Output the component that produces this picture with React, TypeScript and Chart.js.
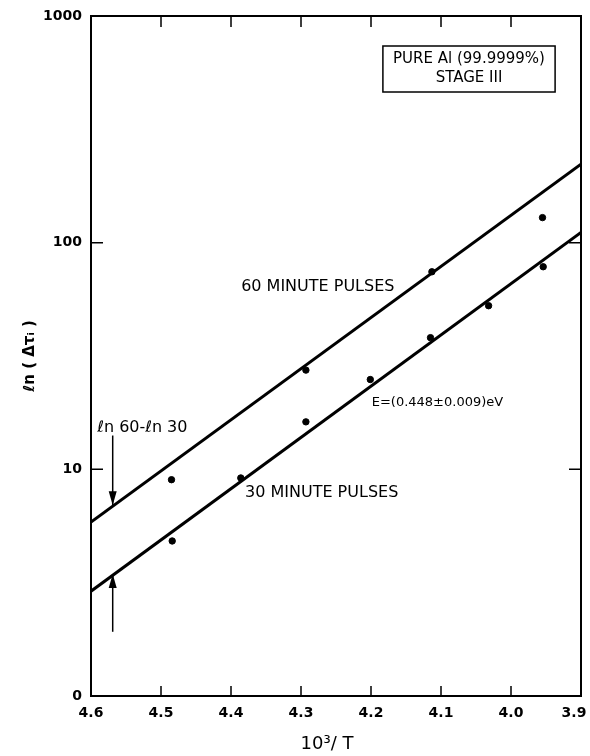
import { useEffect, useRef } from 'react';
import { Chart, registerables } from 'chart.js';
Chart.register(...registerables);

const xTicks = [4.6, 4.5, 4.4, 4.3, 4.2, 4.1, 4.0, 3.9];
const xTickLabels = ['4.6', '4.5', '4.4', '4.3', '4.2', '4.1', '4.0', '3.9\u2002\u2002'];
const yTicks = [1, 10, 100, 1000];
const yTickLabels = ['0', '10', '100', '1000'];

const x60 = [4.485, 4.293, 4.113, 3.955];
const y60 = [9.0, 27.4, 74.4, 129];
const x30 = [4.484, 4.386, 4.293, 4.201, 4.115, 4.032, 3.954];
const y30 = [4.83, 9.16, 16.2, 24.9, 38.1, 52.7, 78.3];

const fit60X = [4.6, 3.9];
const fit60Y = [5.85, 222];
const fit30X = [4.6, 3.9];
const fit30Y = [2.9, 111];

const xTitle = '10³/ T\u2002\u2002';
const yTitle = 'ℓn ( Δτᵢ )';
const boxLines = ['PURE Al (99.9999%)', 'STAGE III'];
const label60 = '60 MINUTE PULSES';
const label30 = '30 MINUTE PULSES';
const labelE = 'E=(0.448±0.009)eV';
const labelLn = 'ℓn 60-ℓn 30';

const pts = (xs: number[], ys: number[]) => xs.map((x, i) => ({ x, y: ys[i] }));

const FONT = '"DejaVu Sans", sans-serif';

const decorPlugin = {
  id: 'decor',
  afterDraw(chart: any) {
    const { ctx, chartArea: a, scales } = chart;
    const xs = scales.x;
    const ys = scales.y;
    const px = (v: number) => xs.getPixelForValue(v);
    const py = (v: number) => ys.getPixelForValue(v);
    ctx.save();
    ctx.strokeStyle = '#000';
    ctx.fillStyle = '#000';
    // frame
    ctx.lineWidth = 2;
    ctx.strokeRect(a.left, a.top, a.right - a.left, a.bottom - a.top);
    // inward ticks
    ctx.lineWidth = 1.5;
    xTicks.slice(1, -1).forEach((v) => {
      const x = px(v);
      ctx.beginPath();
      ctx.moveTo(x, a.bottom);
      ctx.lineTo(x, a.bottom - 10);
      ctx.moveTo(x, a.top);
      ctx.lineTo(x, a.top + 11);
      ctx.stroke();
    });
    yTicks.slice(1, -1).forEach((v) => {
      const y = py(v);
      ctx.beginPath();
      ctx.moveTo(a.left, y);
      ctx.lineTo(a.left + 12, y);
      ctx.moveTo(a.right, y);
      ctx.lineTo(a.right - 12, y);
      ctx.stroke();
    });
    // info box
    const bx1 = px(4.183), bx2 = px(3.937);
    const by1 = a.top + 30, by2 = a.top + 76;
    ctx.lineWidth = 1.5;
    ctx.strokeRect(bx1, by1, bx2 - bx1, by2 - by1);
    ctx.font = `15px ${FONT}`;
    ctx.textAlign = 'center';
    ctx.textBaseline = 'middle';
    ctx.fillText(boxLines[0], (bx1 + bx2) / 2, by1 + 13);
    ctx.fillText(boxLines[1], (bx1 + bx2) / 2, by1 + 32);
    // labels
    ctx.font = `16px ${FONT}`;
    ctx.textAlign = 'center';
    ctx.fillText(label60, px(4.276), py(63.7));
    ctx.textAlign = 'left';
    ctx.fillText(label30, px(4.38), py(7.86));
    ctx.fillText(labelLn, px(4.591), py(15.2));
    ctx.font = `13px ${FONT}`;
    ctx.fillText(labelE, px(4.199), py(19.6));
    // arrows
    const ax = px(4.569);
    const drawArrow = (y0: number, y1: number) => {
      ctx.lineWidth = 1.5;
      ctx.beginPath();
      ctx.moveTo(ax, y0);
      ctx.lineTo(ax, y1);
      ctx.stroke();
      const dir = y1 > y0 ? 1 : -1;
      ctx.beginPath();
      ctx.moveTo(ax, y1);
      ctx.lineTo(ax - 4, y1 - dir * 14);
      ctx.lineTo(ax + 4, y1 - dir * 14);
      ctx.closePath();
      ctx.fill();
    };
    drawArrow(py(14.1), py(6.95));
    drawArrow(py(1.92), py(3.45));
    ctx.restore();
  },
};

export default function App() {
  const ref = useRef<HTMLCanvasElement>(null);
  useEffect(() => {
    if (!ref.current) return;
    const chart = new Chart(ref.current, {
      type: 'scatter',
      data: {
        datasets: [
          { data: pts(fit60X, fit60Y), showLine: true, borderColor: '#000', borderWidth: 3, pointRadius: 0 },
          { data: pts(fit30X, fit30Y), showLine: true, borderColor: '#000', borderWidth: 3, pointRadius: 0 },
          { data: pts(x60, y60), backgroundColor: '#000', borderColor: '#000', pointRadius: 3.2 },
          { data: pts(x30, y30), backgroundColor: '#000', borderColor: '#000', pointRadius: 3.2 },
        ],
      },
      options: {
        responsive: false,
        animation: false,
        layout: { padding: { top: 16, right: 9, left: 0, bottom: 0 } },
        plugins: { legend: { display: false }, tooltip: { enabled: false } },
        scales: {
          x: {
            type: 'linear',
            reverse: true,
            min: 3.9,
            max: 4.6,
            afterBuildTicks: (s: any) => { s.ticks = xTicks.map((v) => ({ value: v })); },
            afterFit: (s: any) => { s.height = 60; s.paddingLeft = 0; s.paddingRight = 0; },
            grid: { display: false, drawTicks: false },
            border: { display: false },
            ticks: {
              padding: 9,
              color: '#000',
              font: { family: FONT, size: 14, weight: 'bold' },
              callback: (v: any) => xTickLabels[xTicks.findIndex((t) => Math.abs(t - Number(v)) < 1e-6)] ?? '',
            },
            title: { display: true, text: xTitle, color: '#000', font: { family: FONT, size: 18 }, padding: { top: 0, bottom: 1 } },
          },
          y: {
            type: 'logarithmic',
            min: 1,
            max: 1000,
            afterBuildTicks: (s: any) => { s.ticks = yTicks.map((v) => ({ value: v })); },
            afterFit: (s: any) => { s.width = 91; s.paddingTop = 0; s.paddingBottom = 0; },
            grid: { display: false, drawTicks: false },
            border: { display: false },
            ticks: {
              padding: 9,
              color: '#000',
              font: { family: FONT, size: 14, weight: 'bold' },
              callback: (v: any) => yTickLabels[yTicks.indexOf(Number(v))] ?? '',
            },
            title: { display: true, text: yTitle, color: '#000', font: { family: FONT, size: 15, weight: 'bold' }, padding: { top: 21, bottom: 0 } },
          },
        },
      },
      plugins: [decorPlugin],
    });
    return () => chart.destroy();
  }, []);
  return (
    <div style={{ position: 'absolute', left: 0, top: 0, width: 590, height: 756, background: '#fff' }}>
      <canvas ref={ref} width={590} height={756} style={{ width: 590, height: 756 }} />
    </div>
  );
}
